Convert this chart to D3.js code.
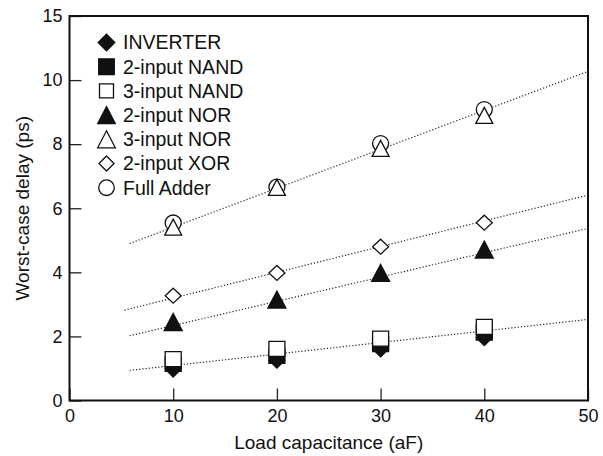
<!DOCTYPE html>
<html>
<head>
<meta charset="utf-8">
<script src="https://cdn.jsdelivr.net/npm/d3@7"></script>
<style>
  html, body { margin: 0; padding: 0; background: #fff; }
  svg { display: block; }
  text { font-family: "Liberation Sans", Arial, Helvetica, sans-serif; fill: #111; }
</style>
</head>
<body>
<svg id="chart" width="603" height="456"></svg>
<script>
// Load capacitance values (aF)
const loads = [10, 20, 30, 40];

// Worst-case delay (ps) per gate type
const inverter = [0.98, 1.26, 1.61, 1.96];
const nand2    = [1.14, 1.39, 1.76, 2.12];
const nand3    = [1.29, 1.61, 1.93, 2.30];
const nor2     = [2.45, 3.15, 3.98, 4.71];
const nor3     = [5.41, 6.65, 7.87, 8.90];
const xor2     = [3.27, 3.98, 4.80, 5.55];
const fullAdder = [5.54, 6.66, 8.02, 9.08];

const seriesNames = ["INVERTER", "2-input NAND", "3-input NAND", "2-input NOR", "3-input NOR", "2-input XOR", "Full Adder"];

// Linear trend lines: [startLoad, endLoad] and [startDelay, endDelay]
const trendLoads = [[5.8, 50], [5.3, 50], [5.8, 50], [5.8, 50]];
const trendDelays = [[4.90, 10.27], [2.82, 6.41], [2.02, 5.37], [0.94, 2.53]];

// Axis ticks
const xTicks = [0, 10, 20, 30, 40, 50];
const yTicks = [0, 2, 4, 6, 8, 10, 12];
const yTickLabels = ["0", "2", "4", "6", "8", "10", "15"];

const svg = d3.select("#chart");
const x = d3.scaleLinear().domain([0, 50]).range([69.5, 588]);
const y = d3.scaleLinear().domain([0, 12]).range([400.5, 16]);

// Marker shape builders (centered at 0,0)
const shapes = {
  diamond: (w, h) => `M0,${-h}L${w},0L0,${h}L${-w},0Z`,
  square: (w, h) => `M${-w},${-h}H${w}V${h}H${-w}Z`,
  triangle: (w, h) => `M0,${-h}L${w},${h}L${-w},${h}Z`,
  circle: (r) => `M${r},0A${r},${r} 0 1,1 ${-r},0A${r},${r} 0 1,1 ${r},0Z`
};

const styles = [
  { name: seriesNames[0], data: inverter, path: shapes.diamond(8, 8), lpath: shapes.diamond(8.3, 8.3), fill: "#111" },
  { name: seriesNames[1], data: nand2, path: shapes.square(8, 7.5), lpath: shapes.square(7.8, 7.8), fill: "#111" },
  { name: seriesNames[2], data: nand3, path: shapes.square(8, 7.5), lpath: shapes.square(7, 7), fill: "#fff" },
  { name: seriesNames[3], data: nor2, path: shapes.triangle(9, 8.5), lpath: shapes.triangle(8.8, 8.5), fill: "#111" },
  { name: seriesNames[4], data: nor3, path: shapes.triangle(8.5, 8), lpath: shapes.triangle(8.8, 8.5), fill: "#fff" },
  { name: seriesNames[5], data: xor2, path: shapes.diamond(8, 7.5), lpath: shapes.diamond(7.5, 7.5), fill: "#fff" },
  { name: seriesNames[6], data: fullAdder, path: shapes.circle(8), lpath: shapes.circle(7.8), fill: "#fff" }
];

// Dotted trend lines
const trendGroup = svg.append("g");
trendLoads.forEach((lx, i) => {
  trendGroup.append("line")
    .attr("x1", x(lx[0])).attr("y1", y(trendDelays[i][0]))
    .attr("x2", x(lx[1])).attr("y2", y(trendDelays[i][1]))
    .attr("stroke", "#222").attr("stroke-width", 1.2)
    .attr("stroke-dasharray", "1.2,2");
});

// Data markers (drawing order keeps open square and open triangle on top)
const drawOrder = [0, 1, 2, 3, 5, 6, 4];
const markGroup = svg.append("g");
drawOrder.forEach(k => {
  const s = styles[k];
  markGroup.selectAll(null)
    .data(s.data.map((v, i) => ({ load: loads[i], delay: v })))
    .join("path")
    .attr("d", s.path)
    .attr("transform", d => `translate(${x(d.load)},${y(d.delay)})`)
    .attr("fill", s.fill)
    .attr("stroke", "#111")
    .attr("stroke-width", 1.3);
});

// Axes with inward ticks
const xAxis = svg.append("g")
  .attr("transform", `translate(0,${y(0)})`)
  .call(d3.axisBottom(x).tickValues(xTicks).tickSizeInner(-12).tickSizeOuter(0).tickPadding(9));
const yAxis = svg.append("g")
  .attr("transform", `translate(${x(0)},0)`)
  .call(d3.axisLeft(y).tickValues(yTicks).tickFormat((d, i) => yTickLabels[i]).tickSizeInner(-12).tickSizeOuter(0).tickPadding(7));
[xAxis, yAxis].forEach(g => {
  g.select(".domain").remove();
  g.selectAll(".tick line").attr("stroke", "#222").attr("stroke-width", 1.3);
  g.selectAll(".tick text").attr("font-size", 18).attr("fill", "#111")
    .style("font-family", '"Liberation Sans", Arial, sans-serif');
});

// Plot frame
svg.append("rect")
  .attr("x", x(0)).attr("y", y(12))
  .attr("width", x(50) - x(0)).attr("height", y(0) - y(12))
  .attr("fill", "none").attr("stroke", "#111").attr("stroke-width", 2);

// Axis titles
svg.append("text")
  .attr("x", (x(0) + x(50)) / 2).attr("y", 449)
  .attr("text-anchor", "middle").attr("font-size", 19)
  .text("Load capacitance (aF)");
svg.append("text")
  .attr("transform", `translate(29,${(y(0) + y(12)) / 2}) rotate(-90)`)
  .attr("text-anchor", "middle").attr("font-size", 19)
  .text("Worst-case delay (ps)");

// Legend
const legend = svg.append("g");
styles.forEach((s, i) => {
  const ly = 42.5 + i * 24.2;
  legend.append("path")
    .attr("d", s.lpath)
    .attr("transform", `translate(106.5,${ly})`)
    .attr("fill", s.fill).attr("stroke", "#111").attr("stroke-width", 1.3);
  legend.append("text")
    .attr("x", 123).attr("y", ly).attr("dy", "0.35em")
    .attr("font-size", 19.5)
    .text(s.name);
});
</script>
</body>
</html>
